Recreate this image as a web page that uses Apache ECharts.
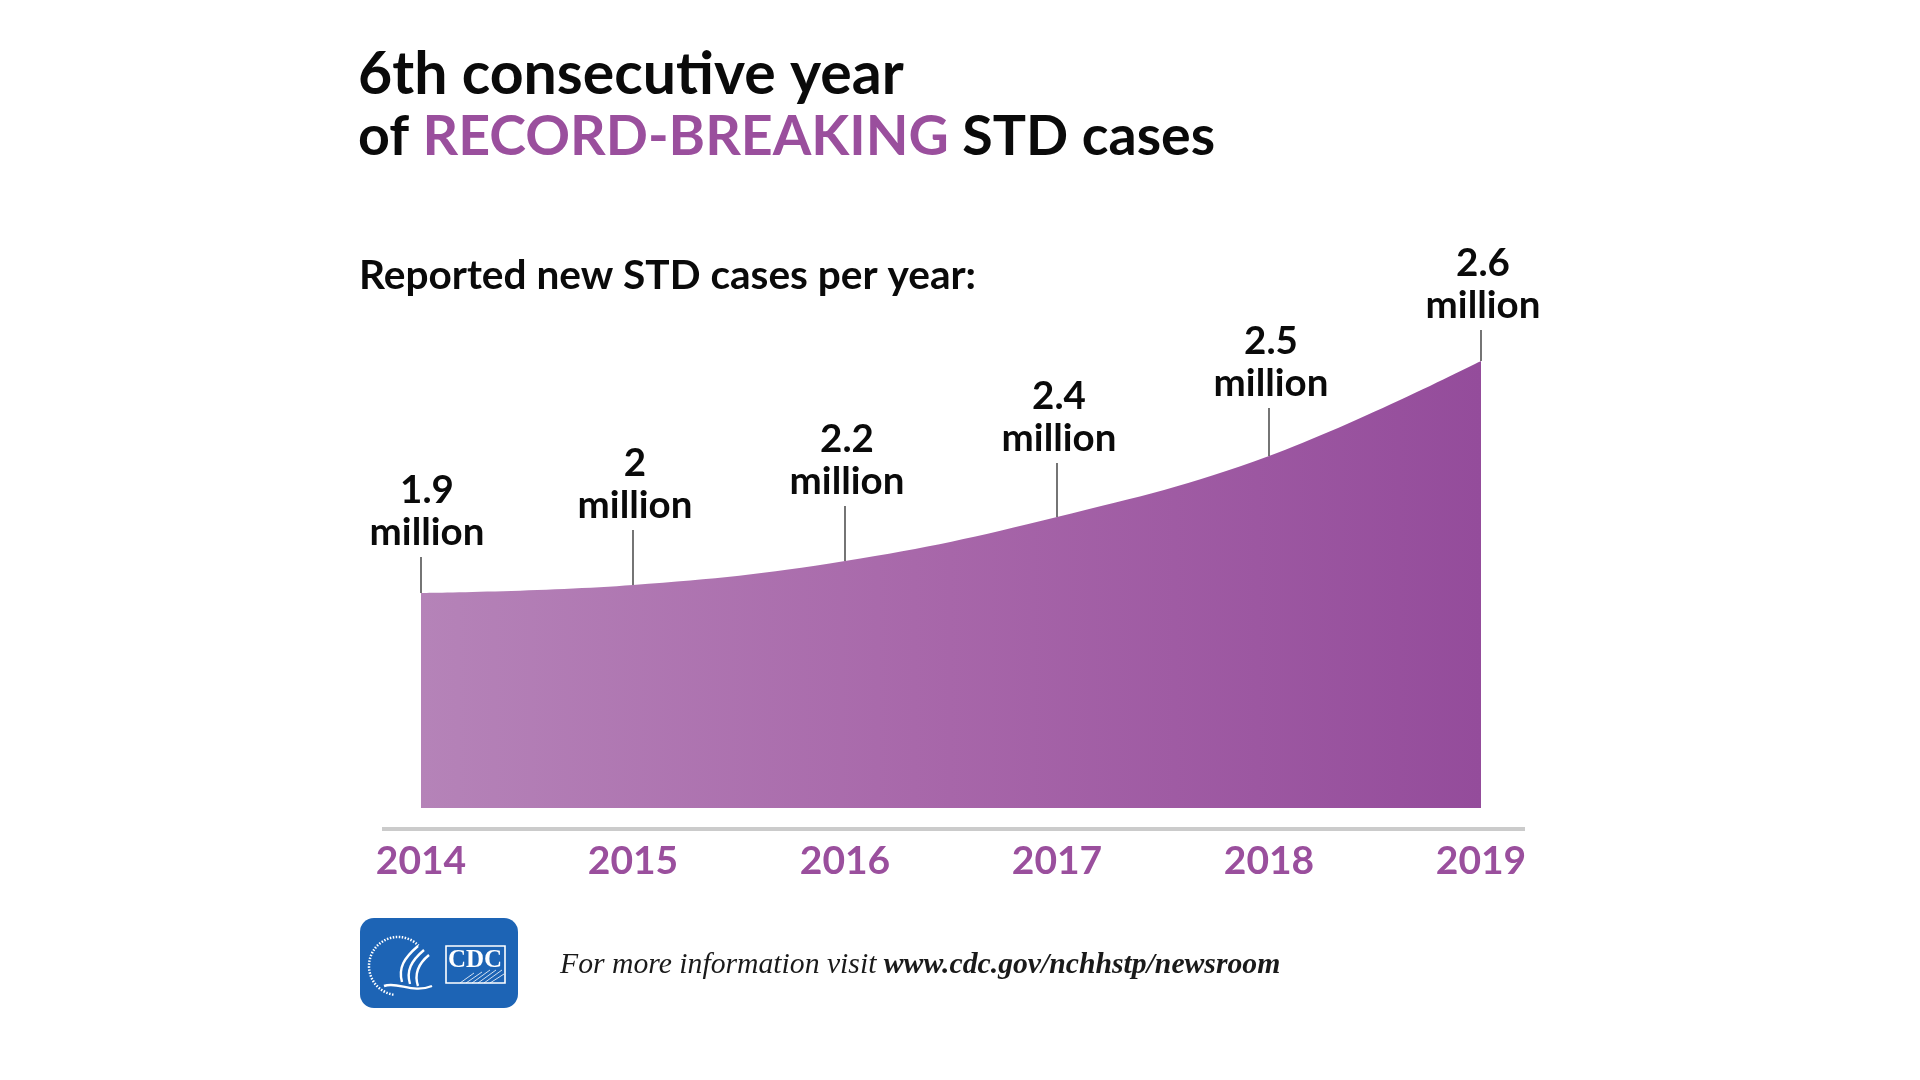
<!DOCTYPE html>
<html><head><meta charset="utf-8">
<script src="https://cdn.jsdelivr.net/npm/echarts@6/dist/echarts.min.js"></script>
<style>html,body{margin:0;padding:0;background:#fff}#c{width:1920px;height:1080px}</style>
</head><body><div id="c"></div>
<script>
// ---- data ----
const years = ['2014', '2015', '2016', '2017', '2018', '2019'];
const casesLabel = ['1.9', '2', '2.2', '2.4', '2.5', '2.6'];          // million, as printed
const curveLevel = [215, 223, 247, 291, 352, 447];                   // stylized curve height (hidden axis units)

// ---- layout / style ----
const leaderLen = [36, 55, 55, 54, 48, 31];
const FONT = 'Lato, "Noto Sans", sans-serif';
const SERIF = '"Liberation Serif", "DejaVu Serif", serif';
const PURPLE = '#9a4f9d';

const chart = echarts.init(document.getElementById('c'), null, {renderer: 'canvas'});

function wline(x1, y1, x2, y2, w) {
  return { type: 'line', shape: { x1, y1, x2, y2 }, style: { stroke: '#ffffff', lineWidth: w } };
}
function wcurve(x1, y1, cx1, cy1, cx2, cy2, x2, y2, w) {
  return { type: 'bezierCurve', shape: { x1, y1, cpx1: cx1, cpy1: cy1, cpx2: cx2, cpy2: cy2, x2, y2 },
           style: { stroke: '#ffffff', lineWidth: w, fill: null } };
}

const option = {
  backgroundColor: '#ffffff',
  animation: false,
  title: [{
    text: '6th consecutive year\n{k|of }{p|RECORD-BREAKING}{k| STD cases}',
    left: 358, top: 43, padding: 0,
    textStyle: {
      fontFamily: FONT, fontWeight: 'bold', fontSize: 59, lineHeight: 63, color: '#0a0a0a',
      rich: {
        k: { fontFamily: FONT, fontWeight: 'bold', fontSize: 55.5, lineHeight: 63, color: '#0a0a0a' },
        p: { fontFamily: FONT, fontWeight: 'bold', fontSize: 55.5, lineHeight: 63, color: PURPLE }
      }
    }
  }, {
    text: 'Reported new STD cases per year:',
    left: 359, top: 256, padding: 0,
    textStyle: { fontFamily: FONT, fontWeight: 'bold', fontSize: 40.6, lineHeight: 40, color: '#0a0a0a' }
  }],
  grid: { left: 421, right: 439, top: 308, bottom: 272 },
  xAxis: {
    type: 'category', data: years, boundaryGap: false,
    axisLine: { show: false }, axisTick: { show: false }, splitLine: { show: false },
    axisLabel: { color: PURPLE, fontFamily: FONT, fontWeight: 'bold', fontSize: 39, margin: 34 }
  },
  yAxis: { type: 'value', min: 0, max: 500, show: false },
  series: [{
    type: 'line',
    data: curveLevel,
    smooth: 0.4,
    showSymbol: false,
    lineStyle: { width: 0 },
    areaStyle: {
      opacity: 1,
      color: new echarts.graphic.LinearGradient(0, 0, 1, 0, [
        { offset: 0, color: '#b583b8' },
        { offset: 0.5, color: '#a766a9' },
        { offset: 1, color: '#944c9b' }
      ])
    },
    z: 2
  }, {
    type: 'custom',
    data: curveLevel.map((v, i) => [i, v]),
    z: 3,
    renderItem: function (params, api) {
      const i = params.dataIndex;
      const pt = api.coord([api.value(0), api.value(1)]);
      const L = leaderLen[i];
      const topY = pt[1] - L;
      return {
        type: 'group',
        children: [{
          type: 'line',
          shape: { x1: pt[0], y1: pt[1], x2: pt[0], y2: topY },
          style: { stroke: '#3a3a3a', lineWidth: 1.4 }
        }, {
          type: 'text',
          x: pt[0] + (i === 0 ? 6 : 2), y: topY - 3,
          style: {
            text: casesLabel[i] + '\nmillion',
            fill: '#0a0a0a',
            fontFamily: FONT, fontWeight: 'bold', fontSize: 38.5, lineHeight: 42,
            align: 'center', verticalAlign: 'bottom'
          }
        }]
      };
    }
  }],
  graphic: [
    { type: 'line', shape: { x1: 382, y1: 829, x2: 1525, y2: 829 }, style: { stroke: '#cbcbcb', lineWidth: 4 } },
    // CDC logo
    { type: 'rect', shape: { x: 360, y: 918, width: 158, height: 90, r: 14 }, style: { fill: '#1d64b5' } },
    { type: 'arc', shape: { cx: 398, cy: 966, r: 29, startAngle: Math.PI * 0.55, endAngle: Math.PI * 1.75 },
      style: { stroke: '#ffffff', lineWidth: 2.5, fill: null, lineDash: [1.5, 1.5] } },
    wcurve(418, 946, 404, 958, 398, 968, 402, 982, 2.4),
    wcurve(424, 950, 411, 961, 406, 971, 410, 984, 2.4),
    wcurve(429, 955, 418, 964, 414, 974, 418, 986, 2.4),
    wcurve(384, 986, 398, 981, 412, 994, 432, 986, 2.4),
    { type: 'rect', shape: { x: 446, y: 946, width: 59, height: 37 }, style: { stroke: '#ffffff', lineWidth: 1.6, fill: null } },
    wline(460, 983, 474, 973, 0.8), wline(466, 983, 482, 972, 0.8), wline(472, 983, 490, 970, 0.8),
    wline(478, 983, 496, 970, 0.8), wline(484, 983, 502, 970, 0.8), wline(490, 983, 504, 974, 0.8),
    { type: 'text', x: 475, y: 961, style: { text: 'CDC', fill: '#ffffff', fontFamily: SERIF, fontWeight: 'bold', fontSize: 25, align: 'center', verticalAlign: 'middle' } },
    // footer
    { type: 'text', x: 560, y: 965, style: {
        text: '{a|For more information visit }{b|www.cdc.gov/nchhstp/newsroom}',
        verticalAlign: 'middle', align: 'left',
        rich: {
          a: { fontFamily: SERIF, fontStyle: 'italic', fontSize: 29.7, fill: '#1a1a1a' },
          b: { fontFamily: SERIF, fontStyle: 'italic', fontWeight: 'bold', fontSize: 29.7, fill: '#1a1a1a' }
        }
      } }
  ]
};
chart.setOption(option);
</script>
</body></html>
